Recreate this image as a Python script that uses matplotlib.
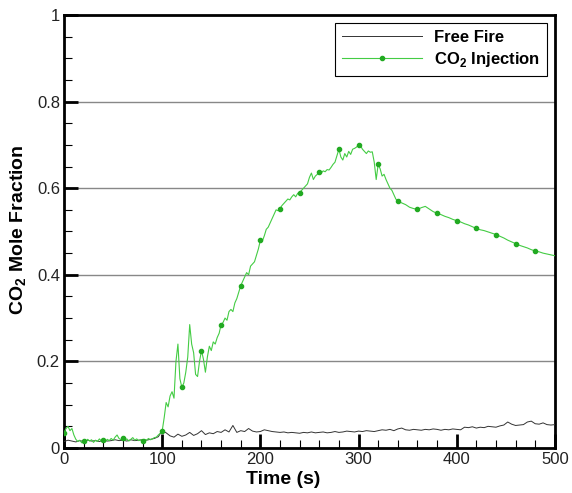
import numpy as np
import matplotlib
matplotlib.use("Agg")
import matplotlib.pyplot as plt
from matplotlib.ticker import MultipleLocator, FuncFormatter

plt.rcParams["font.family"] = ["Liberation Sans", "DejaVu Sans"]
plt.rcParams["mathtext.fontset"] = "custom"
plt.rcParams["mathtext.bf"] = "Liberation Sans:bold"
plt.rcParams["mathtext.rm"] = "Liberation Sans"

# --- dados ---
tempo_co2 = np.concatenate([np.arange(0, 342, 2), np.arange(344, 504, 4)])
fracao_co2 = [
    # 0 - 100
    0.035, 0.045, 0.050, 0.040, 0.045, 0.030, 0.020, 0.015, 0.018, 0.012,
    0.017, 0.014, 0.020, 0.016, 0.019, 0.013, 0.018, 0.015, 0.021, 0.016,
    0.019, 0.014, 0.020, 0.017, 0.022, 0.018, 0.025, 0.030, 0.022, 0.019,
    0.024, 0.018, 0.021, 0.016, 0.020, 0.024, 0.018, 0.021, 0.017, 0.019,
    0.016, 0.020, 0.018, 0.022, 0.019, 0.021, 0.024, 0.025, 0.030, 0.034,
    0.040,
    # 102 - 200
    0.070, 0.105, 0.095, 0.120, 0.130, 0.115, 0.200, 0.240, 0.160, 0.140,
    0.150, 0.175, 0.210, 0.285, 0.240, 0.220, 0.170, 0.165, 0.200, 0.225,
    0.205, 0.175, 0.210, 0.235, 0.225, 0.245, 0.240, 0.255, 0.265, 0.285,
    0.290, 0.300, 0.295, 0.315, 0.320, 0.315, 0.335, 0.345, 0.360, 0.375,
    0.385, 0.395, 0.405, 0.400, 0.420, 0.425, 0.430, 0.445, 0.460, 0.480,
    # 202 - 340
    0.478, 0.490, 0.505, 0.510, 0.520, 0.530, 0.540, 0.550, 0.548, 0.553,
    0.560, 0.565, 0.570, 0.575, 0.573, 0.580, 0.585, 0.580, 0.588, 0.590,
    0.595, 0.600, 0.605, 0.610, 0.625, 0.635, 0.620, 0.628, 0.632, 0.637,
    0.635, 0.640, 0.638, 0.643, 0.642, 0.648, 0.655, 0.660, 0.675, 0.690,
    0.672, 0.665, 0.680, 0.672, 0.685, 0.678, 0.690, 0.692, 0.695, 0.700,
    0.698, 0.690, 0.685, 0.680, 0.686, 0.683, 0.684, 0.660, 0.620, 0.655,
    0.645, 0.628, 0.632, 0.620, 0.610, 0.600, 0.595, 0.585, 0.575, 0.570,
    # 344 - 500
    0.566, 0.562, 0.556, 0.553, 0.551, 0.555, 0.558, 0.552, 0.546, 0.542,
    0.539, 0.535, 0.532, 0.528, 0.525, 0.522, 0.518, 0.515, 0.511, 0.507,
    0.504, 0.502, 0.499, 0.496, 0.493, 0.489, 0.485, 0.480, 0.476, 0.472,
    0.468, 0.465, 0.462, 0.458, 0.455, 0.453, 0.450, 0.448, 0.446, 0.444,
]

tempo_livre = np.arange(0, 504, 4)
fracao_livre = [
    0.015, 0.018, 0.016, 0.014, 0.017, 0.015, 0.018, 0.016, 0.017, 0.015,
    0.018, 0.016, 0.017, 0.019, 0.017, 0.018, 0.016, 0.019, 0.017, 0.018,
    0.019, 0.018, 0.020, 0.022, 0.026, 0.040, 0.035, 0.028, 0.025, 0.032,
    0.027, 0.030, 0.036, 0.029, 0.033, 0.040, 0.031, 0.035, 0.033, 0.038,
    0.036, 0.042, 0.037, 0.052, 0.036, 0.040, 0.038, 0.045, 0.039, 0.037,
    0.038, 0.042, 0.040, 0.038, 0.037, 0.036, 0.037, 0.035, 0.036, 0.035,
    0.034, 0.036, 0.035, 0.037, 0.035, 0.036, 0.037, 0.035, 0.036, 0.038,
    0.036, 0.037, 0.039, 0.038, 0.037, 0.039, 0.038, 0.040, 0.039, 0.038,
    0.040, 0.042, 0.041, 0.043, 0.040, 0.044, 0.046, 0.042, 0.041, 0.043,
    0.042, 0.041, 0.043, 0.042, 0.044, 0.043, 0.041, 0.043, 0.042, 0.044,
    0.043, 0.042, 0.048, 0.047, 0.049, 0.046, 0.048, 0.047, 0.050, 0.049,
    0.048, 0.051, 0.053, 0.060, 0.055, 0.052, 0.053, 0.054, 0.060, 0.062,
    0.056, 0.055, 0.058, 0.054, 0.053, 0.054,
]

# marcadores a cada 20 s
marcas = [i for i, t in enumerate(tempo_co2) if t % 20 == 0 and t < 500]

fig = plt.figure(figsize=(5.72, 4.93), dpi=100)
ax = fig.add_axes([0.112, 0.0913, 0.858, 0.8783])

ax.plot(tempo_livre, fracao_livre, color="#333333", lw=0.7, label="Free Fire", zorder=3)
ax.plot(tempo_co2, fracao_co2, color="#44cc44", lw=0.8, marker="o", markersize=3,
        markerfacecolor="#22aa22", markeredgecolor="#22aa22", markevery=marcas,
        label=r"CO$_\mathbf{2}$ Injection", zorder=4)

ax.set_xlim(0, 500)
ax.set_ylim(0, 1)
ax.xaxis.set_major_locator(MultipleLocator(100))
ax.xaxis.set_minor_locator(MultipleLocator(20))
ax.yaxis.set_major_locator(MultipleLocator(0.2))
ax.yaxis.set_minor_locator(MultipleLocator(0.05))
ax.yaxis.set_major_formatter(FuncFormatter(lambda v, p: "%g" % round(v, 2)))

ax.tick_params(which="major", direction="in", length=10, width=2, labelsize=12,
               labelcolor="#222222", top=False, right=False, pad=3)
ax.tick_params(which="minor", direction="in", length=6, width=0.8,
               top=False, right=False)
for s in ax.spines.values():
    s.set_linewidth(2)

ax.grid(axis="y", which="major", color="#888888", lw=1)
ax.set_axisbelow(True)

ax.set_xlabel("Time (s)", fontsize=14, fontweight="bold")
ax.xaxis.set_label_coords(0.446, -0.052, transform=ax.transAxes)
ax.set_ylabel(r"CO$_\mathbf{2}$ Mole Fraction", fontsize=14, fontweight="bold")
ax.yaxis.set_label_coords(-0.071, 0.503, transform=ax.transAxes)

leg = ax.legend(loc="upper right", prop={"weight": "bold", "size": 12},
                frameon=True, fancybox=False, edgecolor="black", handlelength=4.8,
                handletextpad=0.7, numpoints=1, borderaxespad=0.5, framealpha=1,
                labelspacing=0.3)
leg.get_frame().set_linewidth(0.8)

fig.savefig("out.png", dpi=100)
